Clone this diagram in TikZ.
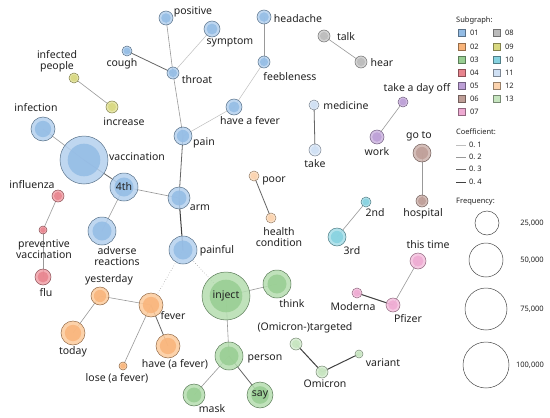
\documentclass[tikz,border=0pt]{standalone}
\usepackage{fontspec}
\setmainfont{Noto Sans}
\pgfdeclarelayer{bg}
\pgfdeclarelayer{edges}
\pgfsetlayers{bg,edges,main}
\definecolor{g01l}{HTML}{B4D0EE}\definecolor{g01d}{HTML}{93BCE5}
\definecolor{g02l}{HTML}{FCCB9C}\definecolor{g02d}{HTML}{F9B47A}
\definecolor{g03l}{HTML}{B5DDB0}\definecolor{g03d}{HTML}{98CE92}
\definecolor{g04l}{HTML}{F0A0A8}\definecolor{g04d}{HTML}{E8848E}
\definecolor{g05l}{HTML}{CDB5E0}\definecolor{g05d}{HTML}{BC9FD6}
\definecolor{g06l}{HTML}{CDB3AD}\definecolor{g06d}{HTML}{BE9E97}
\definecolor{g07l}{HTML}{F4C0DE}\definecolor{g07d}{HTML}{EEAAD2}
\definecolor{g08l}{HTML}{CCCCCC}\definecolor{g08d}{HTML}{BBBBBB}
\definecolor{g09l}{HTML}{E2E29A}\definecolor{g09d}{HTML}{D8D880}
\definecolor{g10l}{HTML}{A5DEE8}\definecolor{g10d}{HTML}{86D2E0}
\definecolor{g11l}{HTML}{DCE8F7}\definecolor{g11d}{HTML}{CFE0F4}
\definecolor{g12l}{HTML}{FDE0C2}\definecolor{g12d}{HTML}{FCD3AE}
\definecolor{g13l}{HTML}{D5ECD0}\definecolor{g13d}{HTML}{C6E5BF}
\definecolor{txt}{HTML}{222222}
\tikzset{
  gnode/.style={circle, inner sep=0pt, line width=0.5pt},
  lbl/.style={font=\fontsize{10.5}{11}\selectfont, text=txt, inner sep=0pt, align=center},
  legt/.style={font=\fontsize{7.5}{9}\selectfont\bfseries, text=txt, inner sep=0pt, anchor=west},
  legn/.style={font=\fontsize{7.5}{9}\selectfont, text=txt, inner sep=0pt, anchor=west},
  legsq/.style={minimum size=7pt, inner sep=0pt, line width=0.4pt},
  legc/.style={circle, draw=black!70, line width=0.5pt, inner sep=0pt},
  c1/.style={line width=0.5pt, draw=black!25},
  c2/.style={line width=0.6pt, draw=black!40},
  c3/.style={line width=0.8pt, draw=black!60},
  c4/.style={line width=1pt, draw=black!75},
  cd/.style={line width=0.6pt, draw=black!35, dotted},
}
\newcommand\gnode[5]{%
  \node[gnode, minimum size=#4*2pt, fill=#5l, fill opacity=0.85, draw=#5d!60!black] (#1) at (#2,#3) {};
  \fill[#5d, fill opacity=0.85] (#1.center) circle[radius=#4*0.68pt];
}
\begin{document}
\begin{tikzpicture}[x=1pt, y=-1pt]
\begin{pgfonlayer}{bg}
\fill[white] (0,0) rectangle (550,418);
\end{pgfonlayer}
\useasboundingbox (0,0) rectangle (550,418);
% group 01
\gnode{positive}{166}{18}{7}{g01}
\gnode{symptom}{212}{29}{8}{g01}
\gnode{headache}{264}{17}{7}{g01}
\gnode{cough}{127}{51}{5}{g01}
\gnode{throat}{173}{73}{6}{g01}
\gnode{feeble}{264}{62}{6}{g01}
\gnode{haveafever}{234}{107}{8}{g01}
\gnode{pain}{183}{136}{9}{g01}
\gnode{infection}{43}{129}{12}{g01}
\gnode{vacc}{84}{160}{24}{g01}
\gnode{fourth}{124}{187}{14}{g01}
\gnode{arm}{179}{198}{11}{g01}
\gnode{adverse}{102}{231}{14}{g01}
\gnode{painful}{183}{250}{14}{g01}
% others
\gnode{infected}{74}{78}{5}{g09}
\gnode{increase}{112}{107}{6}{g09}
\gnode{talk}{324}{36}{6}{g08}
\gnode{hear}{361}{62}{6}{g08}
\gnode{medicine}{314}{105}{5}{g11}
\gnode{take}{315}{150}{6}{g11}
\gnode{dayoff}{403}{102}{5}{g05}
\gnode{work}{377}{137}{7}{g05}
\gnode{goto}{422}{153}{9}{g06}
\gnode{hospital}{422}{201}{6}{g06}
\gnode{influenza}{58}{196}{6}{g04}
\gnode{preventive}{43}{230}{4}{g04}
\gnode{flu}{43}{277}{8}{g04}
\gnode{poor}{254}{176}{5}{g12}
\gnode{health}{271}{218}{5}{g12}
\gnode{second}{366}{202}{5}{g10}
\gnode{third}{337}{237}{9}{g10}
\gnode{thistime}{418}{261}{8}{g07}
\gnode{moderna}{357}{293}{5}{g07}
\gnode{pfizer}{393}{305}{7}{g07}
\gnode{yesterday}{100}{296}{9}{g02}
\gnode{fever}{151}{305}{12}{g02}
\gnode{today}{73}{333}{12}{g02}
\gnode{havefever}{168}{346}{12}{g02}
\gnode{lose}{123}{366}{4}{g02}
\gnode{inject}{226}{296}{24}{g03}
\gnode{think}{277}{284}{14}{g03}
\gnode{person}{229}{356}{14}{g03}
\gnode{mask}{194}{395}{11}{g03}
\gnode{say}{260}{395}{13}{g03}
\gnode{targeted}{296}{344}{6}{g13}
\gnode{omicron}{322}{372}{6}{g13}
\gnode{variant}{359}{354}{4}{g13}
% edges
\begin{pgfonlayer}{edges}
\draw[c2] (positive.center) -- (throat.center);
\draw[c1] (symptom.center) -- (throat.center);
\draw[c3] (cough.center) -- (throat.center);
\draw[c2] (throat.center) -- (pain.center);
\draw[c2] (headache.center) -- (feeble.center);
\draw[c1] (feeble.center) -- (haveafever.center);
\draw[c1] (haveafever.center) -- (pain.center);
\draw[c3] (pain.center) -- (arm.center);
\draw[c2] (arm.center) -- (fourth.center);
\draw[c3] (fourth.center) -- (vacc.center);
\draw[c2] (vacc.center) -- (infection.center);
\draw[c2] (fourth.center) -- (adverse.center);
\draw[c4] (arm.center) -- (painful.center);
\draw[cd] (painful.center) -- (fever.center);
\draw[cd] (painful.center) -- (inject.center);
\draw[c2] (infected.center) -- (increase.center);
\draw[c2] (talk.center) -- (hear.center);
\draw[c3] (medicine.center) -- (take.center);
\draw[c2] (dayoff.center) -- (work.center);
\draw[c2] (goto.center) -- (hospital.center);
\draw[c2] (influenza.center) -- (preventive.center);
\draw[c2] (preventive.center) -- (flu.center);
\draw[c3] (poor.center) -- (health.center);
\draw[c2] (second.center) -- (third.center);
\draw[c2] (thistime.center) -- (pfizer.center);
\draw[c4] (moderna.center) -- (pfizer.center);
\draw[c2] (yesterday.center) -- (fever.center);
\draw[c2] (yesterday.center) -- (today.center);
\draw[c3] (fever.center) -- (havefever.center);
\draw[c2] (fever.center) -- (lose.center);
\draw[c2] (inject.center) -- (think.center);
\draw[c2] (inject.center) -- (person.center);
\draw[c2] (person.center) -- (mask.center);
\draw[c3] (person.center) -- (say.center);
\draw[c4] (targeted.center) -- (omicron.center);
\draw[c4] (omicron.center) -- (variant.center);
\end{pgfonlayer}
% labels
\node[lbl] (l-positive) at (193,12) {positive};
\node[lbl] (l-symptom) at (230,42) {symptom};
\node[lbl] (l-headache) at (298,19) {headache};
\node[lbl] (l-cough) at (122,64) {cough};
\node[lbl] (l-throat) at (197,80) {throat};
\node[lbl] (l-feeble) at (290,77) {feebleness};
\node[lbl] (l-haveafever) at (250,121) {have a fever};
\node[lbl] (l-pain) at (204,143) {pain};
\node[lbl] (l-infected) at (57,61) {infected\\people};
\node[lbl] (l-increase) at (124,122) {increase};
\node[lbl] (l-infection) at (36,108) {infection};
\node[lbl] (l-vacc) at (137,157) {vaccination};
\node[lbl] (l-fourth) at (124,187) {4th};
\node[lbl] (l-arm) at (200,208) {arm};
\node[lbl] (l-adverse) at (117,256) {adverse\\reactions};
\node[lbl] (l-painful) at (217,251) {painful};
\node[lbl] (l-talk) at (346,37) {talk};
\node[lbl] (l-hear) at (382,63) {hear};
\node[lbl] (l-medicine) at (346,106) {medicine};
\node[lbl] (l-take) at (315,164) {take};
\node[lbl] (l-dayoff) at (417,89) {take a day off};
\node[lbl] (l-work) at (377,152) {work};
\node[lbl] (l-goto) at (419,136) {go to};
\node[lbl] (l-hospital) at (423,214) {hospital};
\node[lbl] (l-influenza) at (32,185) {influenza};
\node[lbl] (l-preventive) at (44,249) {preventive\\vaccination};
\node[lbl] (l-flu) at (46,293) {flu};
\node[lbl] (l-poor) at (274,181) {poor};
\node[lbl] (l-health) at (279,237) {health\\condition};
\node[lbl] (l-second) at (375,213) {2nd};
\node[lbl] (l-third) at (352,251) {3rd};
\node[lbl] (l-thistime) at (428,245) {this time};
\node[lbl] (l-moderna) at (353,307) {Moderna};
\node[lbl] (l-pfizer) at (408,319) {Pfizer};
\node[lbl] (l-yesterday) at (109,280) {yesterday};
\node[lbl] (l-fever) at (173,316) {fever};
\node[lbl] (l-today) at (73,352) {today};
\node[lbl] (l-havefever) at (175,364) {have (a fever)};
\node[lbl] (l-lose) at (117,378) {lose (a fever)};
\node[lbl] (l-inject) at (226,296) {inject};
\node[lbl] (l-think) at (292,304) {think};
\node[lbl] (l-person) at (265,359) {person};
\node[lbl] (l-mask) at (212,409) {mask};
\node[lbl] (l-say) at (260,395) {say};
\node[lbl] (l-targeted) at (305,328) {(Omicron-)targeted};
\node[lbl] (l-variant) at (383,363) {variant};
\node[lbl] (l-omicron) at (325,384) {Omicron};
% legend
\node[legt] (lg-sub) at (456,21) {Subgraph:};
\foreach \g/\yy in {01/33,02/47,03/60,04/73,05/86,06/99,07/112}{
  \node[legsq, fill=g\g d, draw=g\g d!60!black] (sq\g) at (462,\yy) {};
  \node[legn] (sqt\g) at (470,\yy) {\g};
}
\foreach \g/\yy in {08/33,09/47,10/60,11/73,12/86,13/99}{
  \node[legsq, fill=g\g d, draw=g\g d!60!black] (sq\g) at (497,\yy) {};
  \node[legn] (sqt\g) at (505,\yy) {\g};
}
\node[legt] (lg-coef) at (456,132) {Coefficient:};
\foreach \s/\yy/\t in {c1/145/1,c2/157/2,c3/169/3,c4/182/4}{
  \coordinate (cs\t) at (456,\yy);
  \coordinate (ce\t) at (466,\yy);
  \draw[\s] (cs\t) -- (ce\t);
  \node[legn] (ct\t) at (469,\yy) {0.~\t};
}
\node[legt] (lg-freq) at (456,202) {Frequency:};
\node[legc, minimum size=24pt] (f1) at (487,223) {};
\node[legc, minimum size=34pt] (f2) at (486,260) {};
\node[legc, minimum size=42pt] (f3) at (486,309) {};
\node[legc, minimum size=46pt] (f4) at (486,365) {};
\node[legn, anchor=center] (ft1) at (532,223) {25,000};
\node[legn, anchor=center] (ft2) at (532,260) {50,000};
\node[legn, anchor=center] (ft3) at (532,309) {75,000};
\node[legn, anchor=center] (ft4) at (530,365) {100,000};
\end{tikzpicture}
\end{document}
